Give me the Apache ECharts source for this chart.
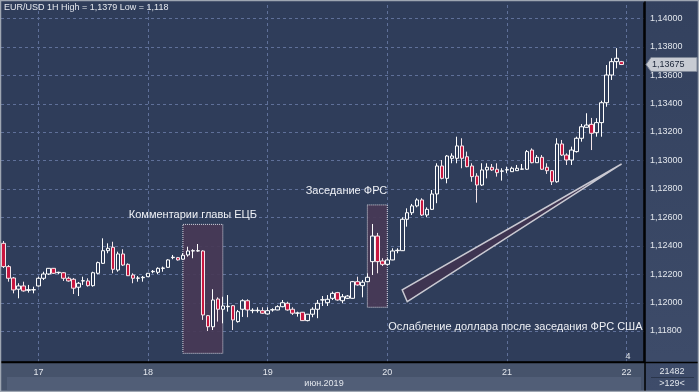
<!DOCTYPE html>
<html><head><meta charset="utf-8">
<script src="https://cdn.jsdelivr.net/npm/echarts@6/dist/echarts.min.js"></script>
<style>html,body{margin:0;padding:0;background:#2f3d5a;}#c{width:699px;height:392px;}</style>
</head><body><div id="c"></div>
<script>
const FONT = 'Liberation Sans, Arial, sans-serif';
const titleText = 'EUR/USD 1H High = 1,1379 Low = 1,118';
const dayLabels = ['17','18','19','20','21','22'];
const dayStartIndex = [7,29,53,77,101,125];
const monthLabel = 'июн.2019';
const yTicks = [1.118,1.120,1.122,1.124,1.126,1.128,1.130,1.132,1.134,1.136,1.138,1.140];
const slotCount = 129;

const opens = [
1.12417,1.12253,1.12173,1.12094,1.12117,1.12086,1.12089,1.12117,1.12171,1.12201,
1.12241,1.12210,1.12210,1.12171,1.12164,1.12108,1.12152,1.12152,1.12119,1.12206,
1.12276,1.12365,1.12389,1.12229,1.12342,1.12269,1.12194,1.12171,1.12175,1.12182,
1.12217,1.12213,1.12241,1.12248,1.12316,1.12316,1.12305,1.12335,1.12363,1.12363,
1.12363,1.11908,1.11830,1.12025,1.11953,1.11971,1.11978,1.11866,1.11953,1.12013,
1.11943,1.11943,1.11943,1.11920,1.11948,1.11948,1.11971,1.11995,1.11953,1.11925,
1.11932,1.11873,1.11918,1.11953,1.12018,1.11999,1.12030,1.12070,1.12013,1.12030,
1.12030,1.12147,1.12119,1.12147,1.12288,1.12468,1.12293,1.12269,1.12300,1.12365,
1.12365,1.12586,1.12632,1.12680,1.12722,1.12616,1.12656,1.12764,1.12961,1.12874,
1.13015,1.13015,1.13102,1.13026,1.12961,1.12890,1.12827,1.12933,1.12952,1.12938,
1.12924,1.12933,1.12921,1.12928,1.12938,1.12938,1.13073,1.12984,1.13022,1.12952,
1.12928,1.12850,1.13116,1.13038,1.13003,1.13062,1.13156,1.13233,1.13254,1.13195,
1.13266,1.13406,1.13601,1.13695,1.13695];
const closes = [
1.12253,1.12171,1.12089,1.12117,1.12082,1.12091,1.12091,1.12171,1.12201,1.12241,
1.12206,1.12213,1.12171,1.12152,1.12101,1.12136,1.12154,1.12119,1.12210,1.12281,
1.12365,1.12382,1.12234,1.12342,1.12264,1.12189,1.12171,1.12173,1.12178,1.12206,
1.12220,1.12241,1.12243,1.12300,1.12319,1.12300,1.12333,1.12363,1.12365,1.12365,
1.11913,1.11830,1.12018,1.11953,1.11976,1.11974,1.11878,1.11936,1.12013,1.11948,
1.11946,1.11946,1.11925,1.11943,1.11950,1.11971,1.11999,1.11948,1.11925,1.11927,
1.11873,1.11918,1.11953,1.11995,1.12020,1.12023,1.12065,1.12018,1.12041,1.12046,
1.12147,1.12124,1.12143,1.12178,1.12468,1.12288,1.12269,1.12300,1.12363,1.12368,
1.12586,1.12632,1.12680,1.12722,1.12616,1.12656,1.12764,1.12961,1.12874,1.13031,
1.13031,1.13102,1.13015,1.12956,1.12886,1.12827,1.12933,1.12952,1.12933,1.12914,
1.12926,1.12935,1.12945,1.12945,1.12940,1.13062,1.12984,1.13022,1.12938,1.12928,
1.12850,1.13116,1.13038,1.13003,1.13073,1.13156,1.13237,1.13249,1.13191,1.13266,
1.13406,1.13601,1.13695,1.13719,1.13675];
const lows = [
1.12243,1.12147,1.12065,1.12030,1.12077,1.12070,1.12065,1.12112,1.12159,1.12194,
1.12201,1.12199,1.12152,1.12147,1.12060,1.12046,1.12124,1.12112,1.12112,1.12199,
1.12272,1.12347,1.12206,1.12217,1.12257,1.12187,1.12136,1.12147,1.12147,1.12180,
1.12206,1.12201,1.12217,1.12245,1.12305,1.12295,1.12302,1.12323,1.12312,1.12358,
1.11878,1.11800,1.11807,1.11866,1.11854,1.11936,1.11807,1.11859,1.11899,1.11897,
1.11925,1.11929,1.11920,1.11915,1.11936,1.11946,1.11967,1.11943,1.11913,1.11901,
1.11871,1.11868,1.11897,1.11890,1.11976,1.11976,1.12018,1.12013,1.11995,1.12025,
1.12027,1.12119,1.12037,1.12145,1.12194,1.12206,1.12257,1.12264,1.12298,1.12347,
1.12363,1.12534,1.12616,1.12670,1.12609,1.12600,1.12651,1.12699,1.12867,1.12839,
1.12980,1.12980,1.12945,1.12952,1.12850,1.12703,1.12820,1.12874,1.12926,1.12886,
1.12858,1.12910,1.12919,1.12926,1.12933,1.12933,1.12980,1.12982,1.12933,1.12905,
1.12827,1.12843,1.13031,1.12968,1.12968,1.13055,1.13132,1.13230,1.13073,1.13167,
1.13167,1.13378,1.13566,1.13648,1.13671];
const highs = [
1.12433,1.12264,1.12180,1.12136,1.12147,1.12124,1.12112,1.12182,1.12217,1.12243,
1.12243,1.12217,1.12215,1.12182,1.12173,1.12145,1.12182,1.12171,1.12217,1.12288,
1.12452,1.12417,1.12428,1.12358,1.12375,1.12276,1.12206,1.12187,1.12187,1.12208,
1.12229,1.12248,1.12253,1.12305,1.12335,1.12321,1.12347,1.12393,1.12375,1.12412,
1.12368,1.11913,1.12094,1.12037,1.12041,1.12053,1.11983,1.11948,1.12023,1.12023,
1.11960,1.11967,1.11967,1.11967,1.11960,1.11981,1.12018,1.12006,1.11967,1.11936,
1.11934,1.11920,1.11967,1.12018,1.12046,1.12053,1.12077,1.12075,1.12060,1.12053,
1.12152,1.12182,1.12159,1.12206,1.12553,1.12490,1.12312,1.12312,1.12382,1.12382,
1.12600,1.12663,1.12694,1.12734,1.12734,1.12670,1.12792,1.12980,1.13003,1.13038,
1.13050,1.13167,1.13156,1.13062,1.12980,1.12910,1.12980,1.12980,1.12975,1.12980,
1.12945,1.12956,1.12956,1.12968,1.12975,1.13073,1.13085,1.13038,1.13038,1.12980,
1.12933,1.13156,1.13144,1.13050,1.13097,1.13167,1.13256,1.13332,1.13299,1.13297,
1.13420,1.13671,1.13719,1.13790,1.13700];

// annotations (data coordinates)
const ecbBox = {from: 36, to: 44, top: 1.12550, bottom: 1.11643, label: 'Комментарии главы ЕЦБ'};
const fedBox = {from: 73, to: 77, top: 1.12687, bottom: 1.11967, label: 'Заседание ФРС'};
const wedgeIdx = [80, 81, 124];
const wedgePrice = [1.12089, 1.12006, 1.12975];
const wedgeLabel = 'Ослабление доллара после заседания ФРС США';
const footTop = '21482', footBottom = '>129<', cornerMark = '4';

const categories = Array.from({length: slotCount}, (_, i) => 'b' + i);
const candles = opens.map((o, i) => [o, closes[i], lows[i], highs[i]]);
const fmt = v => v.toFixed(5).replace('.', ',');
const gridColor = '#5f7099';
const gridStyle = {type: [3, 3], color: gridColor, width: 1};

const chart = echarts.init(document.getElementById('c'), null, {renderer: 'canvas'});
chart.setOption({
  animation: false,
  backgroundColor: '#2f3d5a',
  title: {text: titleText, left: 4, top: 3, padding: 0, textStyle: {fontSize: 9, color: '#e6e9ef', fontWeight: 'normal', fontFamily: FONT}},
  grid: {left: 1, right: 55, top: 3, bottom: 30},
  xAxis: {
    type: 'category', data: categories, boundaryGap: true,
    axisLine: {show: true, lineStyle: {color: '#000', width: 1.5}},
    axisTick: {show: false},
    splitLine: {show: false},
    axisLabel: {
      interval: (idx) => dayStartIndex.indexOf(idx) >= 0,
      formatter: (val, idx) => { const k = dayStartIndex.indexOf(idx); return k >= 0 ? dayLabels[k] : ''; },
      color: '#e2e6ec', fontSize: 9, fontFamily: FONT, margin: 6
    }
  },
  yAxis: {
    type: 'value', position: 'right', min: 1.115819, max: 1.141076, scale: true,
    axisLine: {show: true, lineStyle: {color: '#000', width: 1.5}},
    axisTick: {show: false, customValues: yTicks},
    splitLine: {show: false},
    axisLabel: {customValues: yTicks, formatter: fmt, color: '#e2e6ec', fontSize: 9, fontFamily: FONT, margin: 6}
  },
  series: [
    {
      // horizontal price grid lines, placed through the y scale
      type: 'custom', z: 0, silent: true,
      data: yTicks.map(v => [0, v]),
      renderItem: (params, api) => {
        const y = Math.round(api.coord([0, api.value(1)])[1]) + 0.5;
        const cs = params.coordSys;
        return {type: 'line', shape: {x1: cs.x, y1: y, x2: cs.x + cs.width, y2: y},
                style: {stroke: gridColor, lineWidth: 1, lineDash: [3, 3]}};
      }
    },
    {
      type: 'custom', z: 1, silent: true,
      data: [[0, wedgePrice[0]]],
      renderItem: (params, api) => {
        const pts = wedgeIdx.map((ix, k) => api.coord([ix, wedgePrice[k]]));
        return {type: 'polygon', shape: {points: pts}, style: {fill: '#3e3451', stroke: '#c9c9d2', lineWidth: 1.5}};
      }
    },
    {
      type: 'candlestick', z: 3, data: candles, barWidth: 4,
      itemStyle: {color: '#2f3d5a', color0: '#c8163f', borderColor: '#ffffff', borderColor0: '#f4e6ea', borderWidth: 1},
      markLine: {
        silent: true, symbol: ['none', 'none'], label: {show: false}, z: 0, animation: false,
        lineStyle: gridStyle,
        data: dayStartIndex.map(i => ({xAxis: categories[i]}))
      },
      markArea: {
        silent: true, z: 1,
        itemStyle: {color: 'rgba(72,56,86,0.92)', borderColor: '#d9d9e2', borderWidth: 1, borderType: 'dotted'},
        label: {show: false},
        data: [ecbBox, fedBox].map(b => [
          {xAxis: categories[b.from], yAxis: b.top},
          {xAxis: categories[b.to], yAxis: b.bottom}
        ])
      }
    }
  ]
});

function ptOf(idx, price) { return chart.convertToPixel({gridIndex: 0}, [categories[idx], price]); }
const lastPrice = closes[closes.length - 1];
const tagY = chart.convertToPixel({yAxisIndex: 0}, lastPrice);
const ecbTop = ptOf(ecbBox.from, ecbBox.top), ecbR = ptOf(ecbBox.to, ecbBox.top);
const fedTop = ptOf(fedBox.to, fedBox.top);
const wedgeBase = ptOf(wedgeIdx[1], wedgePrice[1]);
const txt = {fill: '#eef0f5', fontSize: 11, fontFamily: FONT};
const small = {fill: '#e2e6ec', fontSize: 9, fontFamily: FONT};

chart.setOption({
  graphic: [
    {type: 'rect', z: -5, silent: true, shape: {x: 645, y: 0, width: 54, height: 392},
     style: {fill: new echarts.graphic.LinearGradient(0, 0, 0, 1, [{offset: 0, color: '#33415e'}, {offset: 1, color: '#3e4c6a'}])}},
    {type: 'rect', z: -5, silent: true, shape: {x: 0, y: 362, width: 645, height: 30}, style: {fill: '#46536b'}},
    {type: 'rect', z: -4, silent: true, shape: {x: 7, y: 377, width: 634, height: 13}, style: {fill: '#515e77'}},
    {type: 'line', z: 50, silent: true, shape: {x1: 0, y1: 362.5, x2: 699, y2: 362.5}, style: {stroke: '#000', lineWidth: 1.5}},
    {type: 'line', z: 50, silent: true, shape: {x1: 645, y1: 0, x2: 645, y2: 392}, style: {stroke: '#000', lineWidth: 1.5}},
    {type: 'line', z: 50, silent: true, shape: {x1: 651, y1: 377.5, x2: 694, y2: 377.5}, style: {stroke: '#2a354b', lineWidth: 1}},
    {type: 'text', z: 50, silent: true, x: 672, y: 372, style: Object.assign({text: footTop, align: 'center', verticalAlign: 'middle'}, small)},
    {type: 'text', z: 50, silent: true, x: 672, y: 384, style: Object.assign({text: footBottom, align: 'center', verticalAlign: 'middle'}, small)},
    {type: 'text', z: 50, silent: true, x: 324, y: 383.5, style: Object.assign({text: monthLabel, align: 'center', verticalAlign: 'middle'}, small)},
    {type: 'text', z: 50, silent: true, x: 628, y: 357, style: Object.assign({text: cornerMark, align: 'center', verticalAlign: 'middle'}, small)},
    {type: 'polygon', z: 60, silent: true,
     shape: {points: [[646, tagY], [651, tagY - 7], [697, tagY - 7], [697, tagY + 7], [651, tagY + 7]]},
     style: {fill: '#c7cbd3', stroke: '#7d8596', lineWidth: 1}},
    {type: 'text', z: 61, silent: true, x: 652, y: tagY, style: {text: fmt(lastPrice), fill: '#1c2639', fontSize: 9, fontFamily: FONT, verticalAlign: 'middle'}},
    {type: 'text', z: 40, silent: true, x: (ecbTop[0] + ecbR[0]) / 2 - 10, y: ecbTop[1] - 9,
     style: Object.assign({text: ecbBox.label, align: 'center', verticalAlign: 'middle'}, txt)},
    {type: 'text', z: 40, silent: true, x: fedTop[0], y: fedTop[1] - 14,
     style: Object.assign({text: fedBox.label, align: 'right', verticalAlign: 'middle'}, txt)},
    {type: 'text', z: 40, silent: true, x: wedgeBase[0] - 19, y: wedgeBase[1] + 25,
     style: Object.assign({text: wedgeLabel, align: 'left', verticalAlign: 'middle'}, txt)},
    {type: 'rect', z: 100, silent: true, shape: {x: 0.5, y: 0.5, width: 698, height: 391}, style: {fill: 'none', stroke: '#9ea6b2', lineWidth: 1.5}}
  ]
});
</script></body></html>
